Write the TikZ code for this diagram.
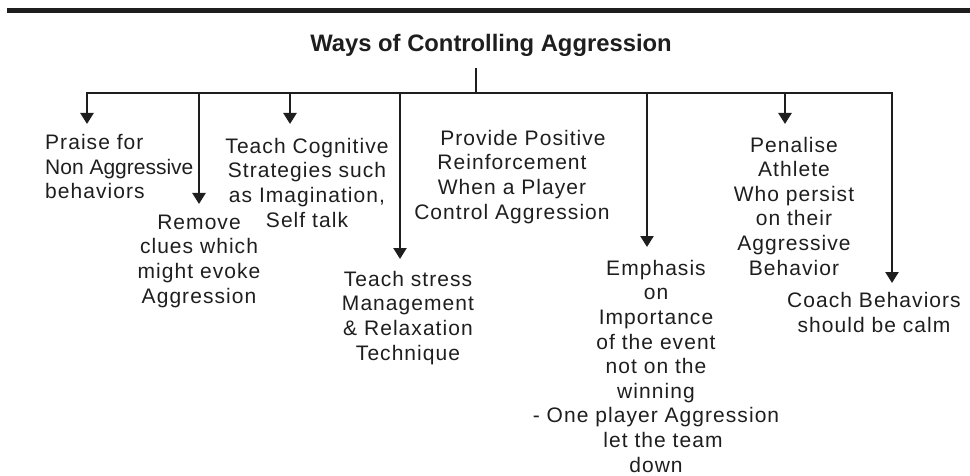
\documentclass[tikz,border=0pt]{standalone}
\usepackage{fontspec}
\setmainfont{Liberation Sans}
\newfontfamily\spacedfont[LetterSpace=5]{Liberation Sans}
\usetikzlibrary{arrows.meta}
\definecolor{ink}{HTML}{1E1E1E}
\tikzset{
  txt/.style={font={\spacedfont\fontsize{21}{24.6}\selectfont}, align=center, inner sep=0pt, anchor=base, text=ink},
  ttl/.style={font={\bfseries\fontsize{23.8}{28}\selectfont}, inner sep=0pt, anchor=base, text=ink},
  wire/.style={line width=2.4pt, draw=ink},
  arr/.style={wire, -{Triangle[length=11pt,width=13pt]}},
}
\begin{document}
\begin{tikzpicture}[x=1pt,y=-1pt]
\useasboundingbox (0,0) rectangle (970,476);
\fill[ink] (7,8) rectangle (970,13);
\node[ttl] (title) at (491,52) {Ways of Controlling Aggression};
% bus coordinates
\coordinate (stemtop) at (476,68);
\coordinate (stem) at (476,93);
\coordinate (b1) at (87,93);
\coordinate (b2) at (199,93);
\coordinate (b3) at (290,93);
\coordinate (b4) at (400,93);
\coordinate (b5) at (647,93);
\coordinate (b6) at (785,93);
\coordinate (b7) at (892,93);
% arrow tips
\coordinate (t1) at (87,124);
\coordinate (t2) at (199,204);
\coordinate (t3) at (290,124);
\coordinate (t4) at (400,259);
\coordinate (t5) at (647,247);
\coordinate (t6) at (785,124);
\coordinate (t7) at (892,283);
% items (anchor base = baseline of the last line)
\node[txt, align=left, anchor=base west] (n1) at (45,199) {Praise for\\{\normalfont\fontsize{21}{24.6}\selectfont Non Aggressive}\\behaviors};
\node[txt] (n2) at (199,303) {Remove\\clues which\\might evoke\\Aggression};
\node[txt] (n3) at (307,227) {Teach Cognitive\\Strategies such\\as Imagination,\\Self talk};
\node[txt] (n4) at (408,360) {Teach stress\\Management\\\& Relaxation\\Technique};
\node[txt] (n5) at (512,219) {\hspace*{22pt}Provide Positive\\Reinforcement\\When a Player\\Control Aggression};
\node[txt] (n6) at (656,472) {Emphasis\\on\\Importance\\of the event\\not on the\\winning\\- One player Aggression\\\hspace*{14pt}let the team\\down};
\node[txt] (n7) at (794,275) {Penalise\\Athlete\\Who persist\\on their\\Aggressive\\Behavior};
\node[txt] (n8) at (874,332) {Coach Behaviors\\should be calm};
% connectors
\draw[wire] (stemtop) -- (stem);
\draw[wire, line cap=rect] (b1) -- (b7);
\draw[arr] (b1) -- (t1);
\draw[arr] (b2) -- (t2);
\draw[arr] (b3) -- (t3);
\draw[arr] (b4) -- (t4);
\draw[arr] (b5) -- (t5);
\draw[arr] (b6) -- (t6);
\draw[arr] (b7) -- (t7);
\end{tikzpicture}
\end{document}
